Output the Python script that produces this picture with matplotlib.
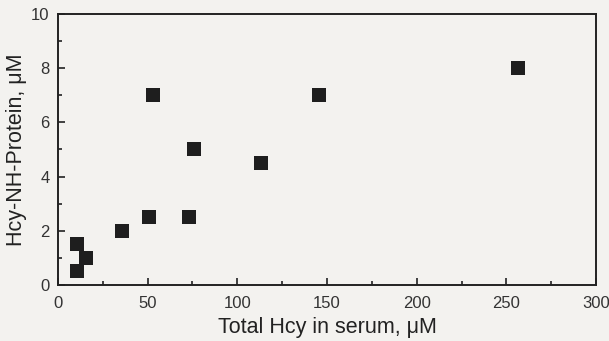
import matplotlib
matplotlib.use("Agg")
import matplotlib.pyplot as plt
from matplotlib.ticker import MultipleLocator

# values
total_hcy = [10.4, 10.8, 15.6, 35.7, 50.6, 53.0, 72.9, 75.8, 113.0, 145.6, 256.7]
hcy_nh_protein = [0.5, 1.5, 1.0, 2.0, 2.5, 7.0, 2.5, 5.0, 4.5, 7.0, 8.0]

plt.rcParams['font.family'] = ['Liberation Sans', 'DejaVu Sans']

fig = plt.figure(figsize=(6.09, 3.41), dpi=100, facecolor='#f3f2ef')
ax = fig.add_axes([0.0952, 0.1642, 0.8835, 0.7948])
ax.set_facecolor('#f3f2ef')

ax.plot(total_hcy, hcy_nh_protein, 's', color='#1e1e1e', markersize=10.5, markeredgewidth=0)

ax.set_xlim(0, 300)
ax.set_ylim(0, 10)
ax.xaxis.set_major_locator(MultipleLocator(50))
ax.xaxis.set_minor_locator(MultipleLocator(25))
ax.yaxis.set_major_locator(MultipleLocator(2))
ax.yaxis.set_minor_locator(MultipleLocator(1))
ax.tick_params(which='both', direction='in', colors='#222222', labelcolor='#333333', labelsize=12, width=1.2)
ax.tick_params(which='major', length=5)
ax.tick_params(axis='x', which='major', pad=8)
ax.tick_params(axis='y', which='major', pad=6)
ax.tick_params(which='minor', length=3)

for s in ax.spines.values():
    s.set_linewidth(1.4)
    s.set_color('#222222')

ax.set_xlabel('Total Hcy in serum, \u03bcM', fontsize=15.5, color='#222222', labelpad=4)
ax.set_ylabel('Hcy-NH-Protein, \u03bcM', fontsize=15.5, color='#222222', labelpad=3)

fig.savefig('out.png', dpi=100, facecolor=fig.get_facecolor())
